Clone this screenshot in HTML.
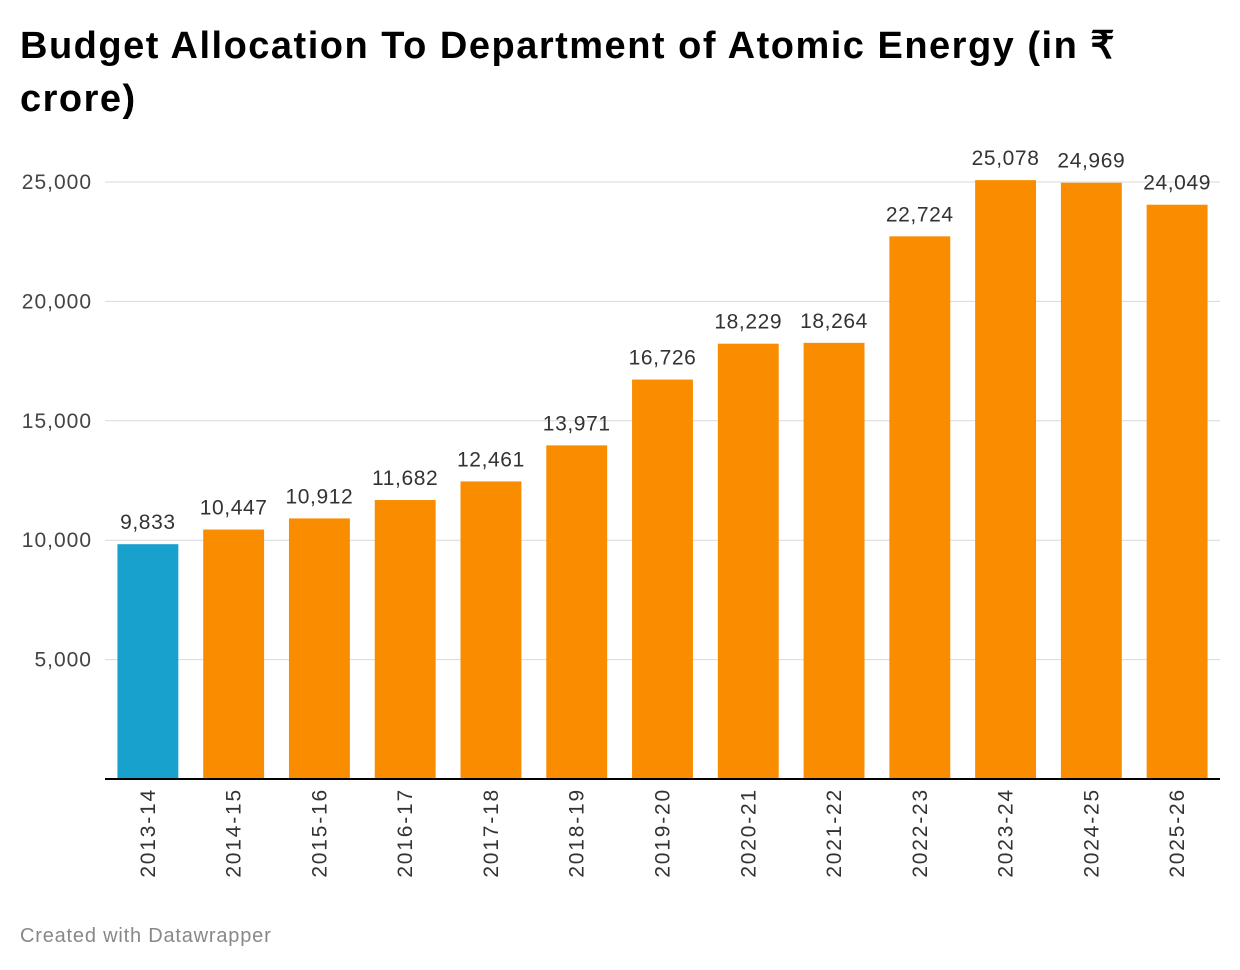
<!DOCTYPE html>
<html><head><meta charset="utf-8"><style>
body{margin:0;background:#fff;width:1240px;height:970px;overflow:hidden;font-family:"Liberation Sans",sans-serif}
h1{position:absolute;left:20px;top:20px;margin:0;font-size:38px;letter-spacing:1.5px;line-height:53px;font-weight:bold;color:#000;width:1130px}
.foot{position:absolute;left:20px;top:925px;font-size:20px;letter-spacing:0.8px;color:#888}
</style></head><body>
<h1>Budget Allocation To Department of Atomic Energy (in ₹ crore)</h1>
<svg id="c" width="1240" height="970" style="position:absolute;left:0;top:0"></svg>
<div class="foot">Created with Datawrapper</div>
<script>
const categories=["2013-14","2014-15","2015-16","2016-17","2017-18","2018-19","2019-20","2020-21","2021-22","2022-23","2023-24","2024-25","2025-26"];
const values=[9833,10447,10912,11682,12461,13971,16726,18229,18264,22724,25078,24969,24049];
const valueLabels=["9,833","10,447","10,912","11,682","12,461","13,971","16,726","18,229","18,264","22,724","25,078","24,969","24,049"];
const yTicks=[5000,10000,15000,20000,25000];
const yTickLabels=["5,000","10,000","15,000","20,000","25,000"];
const svg=document.getElementById('c');const NS='http://www.w3.org/2000/svg';
const x0=105,x1=1220,y0=779,yTop=182;
const y=v=>y0-(v/25000)*(y0-yTop);
const band=(x1-x0)/categories.length;
const cx=i=>x0+band*(i+0.5);
function mk(t,a){const e=document.createElementNS(NS,t);for(const k in a)e.setAttribute(k,a[k]);svg.appendChild(e);return e;}
yTicks.forEach((t,i)=>{
 const g=mk('line',{x1:x0,x2:x1,y1:y(t),y2:y(t),stroke:'#d9d9d9','stroke-width':1});
 
 
 const l=mk('text',{x:92,y:y(t)+7,'text-anchor':'end','font-size':21,'letter-spacing':1,fill:'#444'});
 l.textContent=yTickLabels[i];
 
 
});
const bw=band*0.71;
categories.forEach((c,i)=>{
 const r=mk('rect',{x:cx(i)-bw/2,y:y(values[i]),width:bw,height:y0-y(values[i]),fill:i===0?'#18a1cd':'#fa8c00'});
 
 
 const v=mk('text',{x:cx(i),y:y(values[i])-15,'text-anchor':'middle','font-size':21,'letter-spacing':0.6,fill:'#333'});
 v.textContent=valueLabels[i];
 
 
 const t=mk('text',{transform:`translate(${cx(i)+7},788) rotate(-90)`,'text-anchor':'end','font-size':21,'letter-spacing':1.8,fill:'#333'});
 t.textContent=c;
 
 
});
const b=mk('line',{x1:x0,x2:x1,y1:y0,y2:y0,stroke:'#000','stroke-width':2});


</script>
</body></html>
